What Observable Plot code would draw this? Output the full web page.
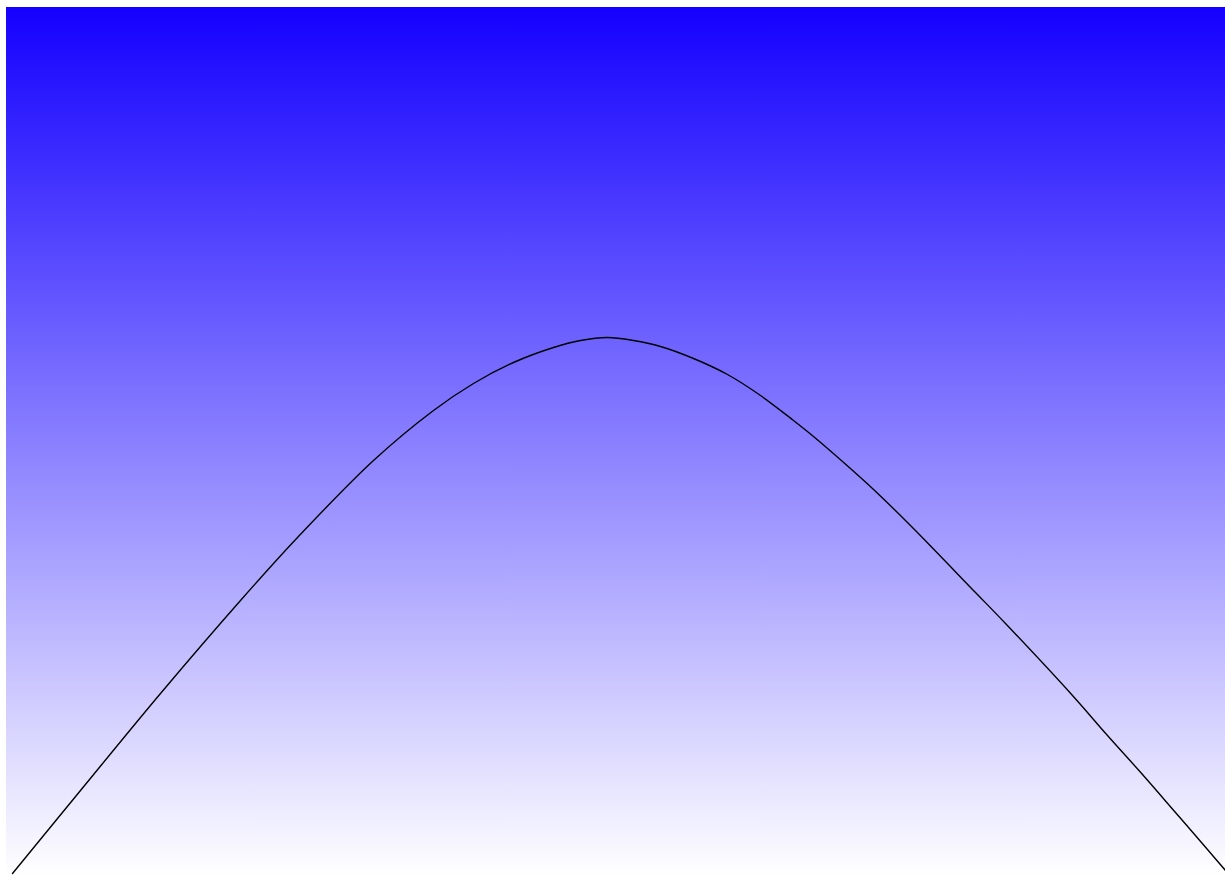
<!DOCTYPE html>
<html>
<head>
<meta charset="utf-8">
<script src="https://cdn.jsdelivr.net/npm/d3@7"></script>
<script src="https://cdn.jsdelivr.net/npm/@observablehq/plot@0.6"></script>
<style>
  html, body { margin: 0; padding: 0; background: #ffffff; }
  #chart svg { display: block; }
</style>
</head>
<body>
<div id="chart"></div>
<script>
// Curve samples (x, y in the chart's own units)
const xs = [6, 74, 154, 234, 291, 367, 427, 467, 507, 547, 574, 601, 627, 654, 687, 721, 754, 787, 807, 836, 866, 902, 969, 999, 1066, 1101, 1136, 1169, 1201, 1219];
const ys = [3, 86, 183, 276, 339, 416, 466, 493, 514, 529, 536, 539, 536, 530, 518, 502, 481, 456, 440, 415, 388, 353, 284, 253, 181, 141, 102, 64, 27, 6];

const xDomain = [0, 1219];
const yDomain = [0, 869];
const gradTop = "#1400ff";
const gradBottom = "#ffffff";

const data = xs.map((x, i) => ({x, y: ys[i]}));

function gradientBackground(index, scales, values, dimensions) {
  const {width, height, marginLeft, marginRight, marginTop, marginBottom} = dimensions;
  const g = d3.create("svg:g");
  const id = "bg-grad";
  const lg = g.append("defs").append("linearGradient")
    .attr("id", id).attr("x1", 0).attr("y1", 0).attr("x2", 0).attr("y2", 1);
  lg.append("stop").attr("offset", "0%").attr("stop-color", gradTop);
  lg.append("stop").attr("offset", "100%").attr("stop-color", gradBottom);
  g.append("rect")
    .attr("x", marginLeft).attr("y", marginTop)
    .attr("width", width - marginLeft - marginRight)
    .attr("height", height - marginTop - marginBottom)
    .attr("fill", `url(#${id})`);
  return g.node();
}

const chart = Plot.plot({
  width: 1225,
  height: 876,
  marginLeft: 6,
  marginTop: 7,
  marginRight: 0,
  marginBottom: 0,
  style: {background: "#ffffff"},
  x: {domain: xDomain, axis: null},
  y: {domain: yDomain, axis: null},
  marks: [
    gradientBackground,
    Plot.line(data, {x: "x", y: "y", stroke: "#000000", strokeWidth: 1.4, curve: "catmull-rom"})
  ]
});
document.getElementById("chart").appendChild(chart);
</script>
</body>
</html>
